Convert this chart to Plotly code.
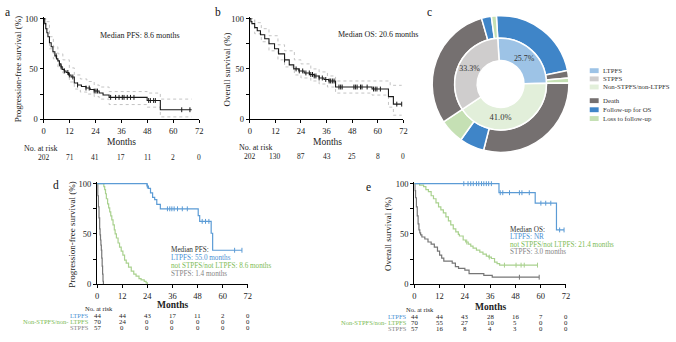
import plotly.graph_objects as go

W, H = 676, 342
FONT = "Liberation Serif"
TXT = "#222222"

MONTH_TICKS = [0, 12, 24, 36, 48, 60, 72]

# ---------------- panel a : PFS, all patients ----------------
a_t = [0, 0.5, 1, 1.5, 2, 2.7, 3.5, 4.3, 5.2, 6.0, 6.6, 7.3, 8.0, 8.6, 9.5, 10.4, 11.5, 12.7,
       14.2, 15.7, 17.5, 19.6, 21.5, 23.4, 25.7, 27.5, 30.3, 47.9, 54.0]
a_s = [100, 95, 90, 86, 82, 76, 72, 67, 63, 60, 58, 55, 52, 49.5, 48, 46.5, 44, 42,
       36, 34, 32.5, 31, 29.5, 28, 26, 24, 21.7, 18.6, 9.4]
a_end = 68.5
a_cens = [5.8, 7.3, 8.1, 9.6, 11.2, 11.9, 13.5, 15.7, 19.6, 21.1, 23.4, 24.2, 24.9, 31, 33.3,
          34.9, 36.4, 37.2, 38.7, 40.2, 41.8, 48.6, 49.4, 50.9, 51.7, 63.9, 67.7]
a_ci_t = [0, 1, 2.7, 4.5, 6.6, 8.9, 11.9, 14.2, 17, 20, 23.4, 25.7, 30.3, 47.9, 54]
a_up_s = [100, 97, 82, 72, 65, 59, 51, 44, 40, 37.5, 34, 32, 27.5, 26, 20]
a_lo_s = [100, 90, 70, 60, 52, 46, 37, 30, 27, 25, 22.5, 20, 14.6, 12, 2.3]
a_risk = [202, 71, 41, 17, 11, 2, 0]

# ---------------- panel b : OS, all patients ----------------
b_t = [0, 0.5, 1, 2.3, 3.5, 5, 7, 9, 11.6, 13.5, 16.3, 18.5, 20.6, 23, 25.5, 28, 30.2, 32.5,
       34.8, 37, 40.2, 57.3, 65, 67.3]
b_s = [100, 97, 95, 91, 88, 84, 80, 75, 70, 65, 59, 54, 50, 48, 46, 44.5, 43, 41,
       39.5, 38, 32, 30, 22.5, 15]
b_end = 71.2
b_cens = [16.3, 21.7, 23.2, 24.8, 26.3, 27.9, 28.6, 29.4, 30.2, 31.0, 32.5, 34, 35.6, 37.2, 37.9,
          38.7, 39.5, 41.8, 42.6, 43.3, 48.8, 49.5, 50.3, 51.9, 52.6, 55, 58, 58.8, 59.6, 61.2,
          68.9, 71.2]
b_up_t = [0, 2.3, 5.4, 9, 13.2, 16.3, 20.9, 24, 28.6, 32.5, 36.4, 40.2, 64.2, 65.8]
b_up_s = [100, 96, 90, 83, 74, 68, 59, 55, 50, 47, 43, 38, 38, 33.7]
b_lo_t = [0, 2.3, 5.4, 9, 13.2, 16.3, 20.9, 24, 28.6, 32.5, 36.4, 40.2, 57.3, 65, 67.3]
b_lo_s = [100, 85, 77, 68, 59, 52, 44, 41, 38, 35, 32, 26, 24, 12, 4]
b_risk = [202, 130, 87, 43, 25, 8, 0]

# ---------------- panel c : donut ----------------
inner_labels = ["LTPFS", "Non-STPFS/non-LTPFS", "STPFS"]
inner_values = [44, 70, 57]
inner_text = ["25.7%", "41.0%", "33.3%"]
outer_groups = ["LTPFS", "LTPFS", "LTPFS", "Non", "Non", "Non", "STPFS", "STPFS", "STPFS"]
outer_status = ["Follow-up for OS", "Death", "Loss to follow-up",
                "Death", "Follow-up for OS", "Loss to follow-up",
                "Death", "Follow-up for OS", "Loss to follow-up"]
outer_values = [39, 3, 2, 50, 10, 10, 51, 4, 2]
legend_labels = ["LTPFS", "STPFS", "Non-STPFS/non-LTPFS", "Death", "Follow-up for OS", "Loss to follow-up"]

# ---------------- panel d : PFS by group ----------------
d_lt_t = [0, 23.8, 24.5, 25.5, 26.5, 27.5, 28.5, 30.2, 48.3, 49.0, 54.5, 55.2]
d_lt_s = [100, 97.7, 95.4, 90.9, 86.4, 84.1, 79.5, 75, 68.2, 62.5, 50.7, 33.8]
d_lt_end = 69.2
d_lt_cens = [24.0, 33.6, 34.7, 35.7, 36.8, 38.4, 40.7, 43.1, 50.2, 51.8, 53.4, 65.7, 69.2]
d_no_t = [0, 3.2, 3.6, 4.0, 4.4, 5.0, 5.5, 6.0, 6.5, 7.0, 7.6, 8.2, 8.6, 9.2, 10.0, 10.7, 11.5,
          12.3, 13.1, 13.9, 15.0, 16.3, 17.5, 18.6, 20.0, 21.0, 22.5, 23.4, 24.0]
d_no_s = [100, 97, 94, 90, 85, 80, 76, 72, 68, 64, 59, 54, 50, 46, 41, 37, 33,
          29, 24, 21, 17, 13, 10, 8, 5.7, 4.3, 2.9, 1.4, 0]
d_st_t = [0, 0.3, 0.6, 0.9, 1.2, 1.4, 1.6, 1.8, 2.0, 2.2, 2.4, 2.6, 2.8, 3.0]
d_st_s = [100, 88, 77, 66, 55, 49, 44, 39, 34, 26, 18, 10, 3, 0]
d_risk_lt = [44, 44, 43, 17, 11, 2, 0]
d_risk_no = [70, 24, 0, 0, 0, 0, 0]
d_risk_st = [57, 0, 0, 0, 0, 0, 0]

# ---------------- panel e : OS by group ----------------
e_lt_t = [0, 40.2, 57.4, 67.5]
e_lt_s = [100, 91, 80.6, 54]
e_lt_end = 71.1
e_lt_cens = [23.5, 25.5, 26.8, 28, 29.5, 30.6, 31.9, 33, 34.2, 35.3, 36.6, 40.8, 42, 45.2, 49.9,
             51.1, 54.6, 60.1, 62.4, 64.8, 69, 71.1]
e_no_t = [0, 2.5, 4.4, 5.5, 6.7, 8, 9.1, 10.3, 11.5, 12.6, 13.8, 15, 16.2, 17.3, 18.5, 19.7, 20.9,
          21.4, 23.2, 24.4, 25.6, 26.8, 27.9, 29.5, 31.1, 32.6, 34.2, 35.4, 36.6, 38.1, 39.3, 40.5]
e_no_s = [100, 98.6, 97, 94, 92, 88, 85, 81, 77, 74, 71, 67, 63, 59, 55, 52, 49.5,
          48, 44, 42, 40, 38, 36, 34, 32, 30, 28, 27, 25.6, 22, 20.5, 19]
e_no_end = 58.5
e_no_cens = [24.9, 35.6, 42.8, 48.3, 50.7, 52.2, 58.5]
e_st_t = [0, 0.3, 0.6, 1.0, 1.4, 1.8, 2.2, 2.6, 3.0, 3.6, 5, 6.5, 8, 9.5, 11, 12, 13, 14, 18,
          19.5, 21, 24, 26, 33, 37]
e_st_s = [100, 93, 86, 77, 68, 60, 54, 51, 49, 47, 45, 42, 40, 37, 33, 29, 26, 23, 21,
          17.5, 15.8, 14, 10.5, 8.8, 7]
e_st_end = 59.3
e_st_cens = [49.9, 59.3]
e_risk_lt = [44, 44, 43, 28, 16, 7, 0]
e_risk_no = [70, 55, 27, 10, 5, 0, 0]
e_risk_st = [57, 16, 8, 4, 3, 0, 0]

# ---------------- styling ----------------
C_BLACK = "#1a1a1a"
C_CI = "#bdbdbd"
C_LT = "#5b9bd5"
C_NO = "#a9d18e"
C_ST = "#767676"
T_LT = "#4a8fd4"
T_NO = "#7dbb55"
T_ST = "#858585"
PIE_INNER = ["#9dc3e6", "#e2efda", "#cfcdcd"]
STATUS_COL = {"Death": "#757070", "Follow-up for OS": "#3f85c8", "Loss to follow-up": "#c5e0b4"}
LEG_COLS = ["#9dc3e6", "#cfcdcd", "#e2efda", "#757070", "#3f85c8", "#c5e0b4"]

fig = go.Figure()


def step_at(ts, ss, t):
    v = ss[0]
    for ti, si in zip(ts, ss):
        if ti <= t:
            v = si
    return v


def km(xa, ya, t, s, end, color, width=1.1, dash=None, cens=None):
    xs = list(t) + [end]
    ys = list(s) + [s[-1]]
    fig.add_trace(go.Scatter(x=xs, y=ys, mode="lines", xaxis=xa, yaxis=ya,
                             line=dict(color=color, width=width, shape="hv", dash=dash),
                             showlegend=False, hoverinfo="skip"))
    if cens:
        cy = [step_at(t, s, c) for c in cens]
        fig.add_trace(go.Scatter(x=cens, y=cy, mode="markers", xaxis=xa, yaxis=ya, cliponaxis=False,
                                 marker=dict(symbol="line-ns-open", size=3.5, color=color,
                                             line=dict(width=1, color=color)),
                                 showlegend=False, hoverinfo="skip"))


# panel a
km("x", "y", a_ci_t, a_up_s, a_end, C_CI, 0.9, "dot")
km("x", "y", a_ci_t, a_lo_s, a_end, C_CI, 0.9, "dot")
km("x", "y", a_t, a_s, a_end, C_BLACK, 1.1, None, a_cens)
# panel b
km("x2", "y2", b_up_t, b_up_s, b_end, C_CI, 0.9, "dot")
km("x2", "y2", b_lo_t, b_lo_s, b_end, C_CI, 0.9, "dot")
km("x2", "y2", b_t, b_s, b_end, C_BLACK, 1.1, None, b_cens)
# panel d
km("x3", "y3", d_st_t, d_st_s, d_st_t[-1], C_ST, 1.2)
km("x3", "y3", d_no_t, d_no_s, d_no_t[-1], C_NO, 1.2)
km("x3", "y3", d_lt_t, d_lt_s, d_lt_end, C_LT, 1.2, None, d_lt_cens)
# panel e
km("x4", "y4", e_st_t, e_st_s, e_st_end, C_ST, 1.2, None, e_st_cens)
km("x4", "y4", e_no_t, e_no_s, e_no_end, C_NO, 1.2, None, e_no_cens)
km("x4", "y4", e_lt_t, e_lt_s, e_lt_end, C_LT, 1.2, None, e_lt_cens)

# donut (panel c)
cx, cy_, r_out, r_mid, r_hole = 503, 83, 70, 47, 24
fig.add_trace(go.Pie(
    labels=[f"{g} - {s}" for g, s in zip(outer_groups, outer_status)], values=outer_values,
    marker=dict(colors=[STATUS_COL[s] for s in outer_status], line=dict(color="white", width=1.5)),
    sort=False, direction="clockwise", rotation=-3.5, hole=r_mid / r_out,
    textinfo="none", showlegend=False, hoverinfo="label+value",
    domain=dict(x=[(cx - r_out) / W, (cx + r_out) / W], y=[1 - (cy_ + r_out) / H, 1 - (cy_ - r_out) / H])))
fig.add_trace(go.Pie(
    labels=inner_labels, values=inner_values, text=inner_text,
    marker=dict(colors=PIE_INNER, line=dict(color="white", width=1.5)),
    sort=False, direction="clockwise", rotation=-3.5, hole=r_hole / r_mid,
    textinfo="text", textposition="inside", insidetextorientation="horizontal",
    textfont=dict(family=FONT, size=8.5, color="#333333"), showlegend=False, hoverinfo="label+value",
    domain=dict(x=[(cx - r_mid) / W, (cx + r_mid) / W], y=[1 - (cy_ + r_mid) / H, 1 - (cy_ - r_mid) / H])))


def ydom(y0px, y100px, top=102.0):
    toppx = y0px - (y0px - y100px) * top / 100.0
    return [1 - y0px / H, 1 - toppx / H]


def xaxis_def(x0px, x72px, anchor):
    return dict(domain=[x0px / W, x72px / W], range=[0, 72], tickvals=MONTH_TICKS,
                ticks="outside", ticklen=3, tickwidth=1, tickcolor="black",
                showline=True, linecolor="black", linewidth=1.2, showgrid=False, zeroline=False,
                tickfont=dict(family=FONT, size=8.5, color=TXT), anchor=anchor, fixedrange=True)


def yaxis_def(y0px, y100px, anchor):
    return dict(domain=ydom(y0px, y100px), range=[0, 102], tickvals=[0, 25, 50, 75, 100],
                ticktext=["0", "", "50", "", "100"], ticks="outside", ticklen=3, tickwidth=1,
                tickcolor="black", showline=True, linecolor="black", linewidth=1.2,
                showgrid=False, zeroline=False, tickfont=dict(family=FONT, size=8.5, color=TXT),
                anchor=anchor, fixedrange=True)


fig.update_layout(
    width=W, height=H, margin=dict(l=0, r=0, t=0, b=0),
    paper_bgcolor="white", plot_bgcolor="white", showlegend=False,
    xaxis=xaxis_def(42, 199, "y"), yaxis=yaxis_def(119, 16, "x"),
    xaxis2=xaxis_def(250, 405, "y2"), yaxis2=yaxis_def(119, 16, "x2"),
    xaxis3=xaxis_def(96, 248, "y3"), yaxis3=yaxis_def(288, 185, "x3"),
    xaxis4=xaxis_def(416, 569, "y4"), yaxis4=yaxis_def(288, 185, "x4"),
)


def ann(text, x, y, size, color=TXT, xanchor="left", xref="paper", bold=False, angle=0):
    fig.add_annotation(text=f"<b>{text}</b>" if bold else text,
                       x=x / W if xref == "paper" else x, y=1 - y / H, xref=xref, yref="paper",
                       showarrow=False, xanchor=xanchor, yanchor="middle", textangle=angle,
                       font=dict(family=FONT, size=size, color=color), borderpad=0)


# panel letters
for letter, x, y in [("a", 6, 9), ("b", 218, 9), ("c", 431, 9), ("d", 54, 186), ("e", 370, 188)]:
    ann(letter, x, y, 11.5, "#111111", "center")

# axis titles
ann("Progression-free survival (%)", 17, 68, 9, angle=-90, xanchor="center")
ann("Overall survival (%)", 227, 68, 9, angle=-90, xanchor="center")
ann("Progression-free survival (%)", 71, 237, 9, angle=-90, xanchor="center")
ann("Overall survival (%)", 390, 237, 9, angle=-90, xanchor="center")
ann("Months", 121, 142, 9.5, xanchor="center")
ann("Months", 328, 142, 9.5, xanchor="center")
ann("Months", 172, 309.5, 9.5, xanchor="center", bold=True)
ann("Months", 493, 311, 9.5, xanchor="center", bold=True)

# medians
ann("Median PFS: 8.6 months", 98, 33, 8)
ann("Median OS: 20.6 months", 338, 32, 8)
ann("Median PFS:", 169, 253, 7.2, "#333333")
ann("LTPFS: 55.0 months", 169, 261, 7.2, T_LT)
ann("not STPFS/not LTPFS: 8.6 months", 169, 269, 7.2, T_NO)
ann("STPFS: 1.4 months", 169, 277, 7.2, T_ST)
ann("Median OS:", 512, 232, 7.2, "#333333")
ann("LTPFS: NR", 512, 240, 7.2, T_LT)
ann("not STPFS/not LTPFS: 21.4 months", 512, 247.5, 7.2, T_NO)
ann("STPFS: 3.0 months", 512, 255, 7.2, T_ST)

# risk tables
ann("No. at risk", 21, 149, 8)
ann("No. at risk", 238, 148, 8)
for m, n in zip(MONTH_TICKS, a_risk):
    ann(str(n), m, 158, 7.5, xanchor="center", xref="x")
for m, n in zip(MONTH_TICKS, b_risk):
    ann(str(n), m, 157, 7.5, xanchor="center", xref="x2")

ann("No. at risk", 83, 313, 6.5)
ann("No. at risk", 407, 314, 6.5)
for xr, rows, labx, ys in [("x3", [(d_risk_lt, "LTPFS", T_LT), (d_risk_no, "Non-STPFS/non- LTPFS", T_NO),
                                   (d_risk_st, "STPFS", T_ST)], 89, [320, 326, 332]),
                           ("x4", [(e_risk_lt, "LTPFS", T_LT), (e_risk_no, "Non-STPFS/non- LTPFS", T_NO),
                                   (e_risk_st, "STPFS", T_ST)], 410, [321, 327, 333])]:
    for (vals, lab, col), yy in zip(rows, ys):
        ann(lab, labx, yy, 6.5, col, "right")
        for m, n in zip(MONTH_TICKS, vals):
            ann(str(n), m, yy, 6.8, xanchor="center", xref=xr)

# donut legend
leg_y = [69.3, 77.7, 86, 100, 109.3, 118.3]
for lab, col, yy in zip(legend_labels, LEG_COLS, leg_y):
    fig.add_shape(type="rect", xref="paper", yref="paper", x0=593 / W, x1=602 / W,
                  y0=1 - (yy + 2.5) / H, y1=1 - (yy - 2.5) / H, fillcolor=col, line=dict(width=0))
    ann(lab, 605, yy, 6.8, "#333333")

fig.write_html("out.html", config={"displayModeBar": False},
               post_script="document.body.style.margin='0';document.body.style.overflow='hidden';")
